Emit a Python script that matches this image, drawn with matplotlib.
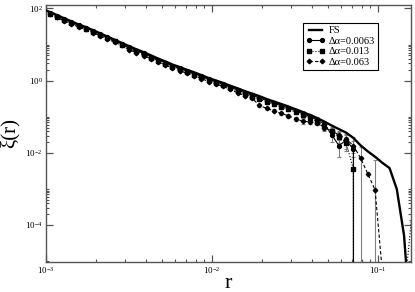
import matplotlib
matplotlib.use('Agg')
import matplotlib.pyplot as plt
from matplotlib.ticker import FixedLocator, LogFormatterSciNotation, NullFormatter

plt.rcParams['font.family'] = ['Liberation Serif', 'DejaVu Serif']
plt.rcParams['mathtext.fontset'] = 'stix'

# ---------------- data ----------------
r = [0.00105, 0.00116, 0.00128, 0.00142, 0.00157, 0.00173, 0.00192, 0.00212,
     0.00234, 0.00259, 0.00286, 0.00316, 0.00350, 0.00387, 0.00428, 0.00473,
     0.00523, 0.00578, 0.00639, 0.00707, 0.00781, 0.00864, 0.00955, 0.01056,
     0.01167, 0.0129, 0.01427, 0.01577, 0.01744, 0.01928, 0.02131, 0.02356,
     0.02605, 0.0288, 0.03184, 0.0352, 0.03892, 0.04303, 0.04757, 0.05259,
     0.05814, 0.06428, 0.07107, 0.07857, 0.08686, 0.09603, 0.10617, 0.11738,
     0.12977, 0.14347, 0.15862]

r_fs = [0.00100] + r
xi_fs = [88.0, 80.5, 66.4, 54.1, 44.1, 36.1, 30.8, 25.1, 20.5, 16.7, 13.6, 11.1,
         9.06, 7.40, 6.17, 5.02, 4.10, 3.42, 2.79, 2.38, 1.99, 1.70, 1.42, 1.18,
         1.01, 0.861, 0.718, 0.612, 0.512, 0.437, 0.372, 0.310, 0.265, 0.226,
         0.193, 0.161, 0.135, 0.112, 0.0916, 0.0729, 0.0569, 0.0454, 0.0361,
         0.0258, 0.0160, 0.0109, 0.00776, 0.00528, 0.00376, 9.8e-4, 5.1e-5, 1e-7]

xi_0063 = [76.5, 63.1, 51.4, 41.9, 34.3, 29.3, 23.8, 19.5, 15.9, 12.9, 10.5,
           8.34, 6.81, 5.68, 4.62, 3.77, 3.15, 2.57, 2.19, 1.83, 1.56, 1.31,
           1.09, 0.929, 0.792, 0.661, 0.551, 0.461, 0.393, 0.335, 0.279, 0.239,
           0.203, 0.174, 0.145, 0.122, 0.101, 0.0806, 0.063, 0.0316, 0.0158,
           0.0224, 0.0126, 0, 0, 0, 0, 0, 0, 0, 0]
err_0063 = [0] * 26 + [0.017, 0.014, 0.012, 0.010, 0.025, 0.022, 0.020, 0.018,
                       0.020, 0.020, 0.018, 0.015, 0.013, 0.012, 0.008, 0.010,
                       0.014, 0, 0, 0, 0, 0, 0, 0, 0]

xi_013 = [72.5, 59.8, 48.7, 39.7, 32.5, 27.7, 22.6, 18.5, 15.0, 12.2, 9.99,
          7.88, 6.44, 5.37, 4.37, 3.57, 2.98, 2.43, 2.07, 1.73, 1.48, 1.24,
          1.03, 0.879, 0.749, 0.625, 0.508, 0.425, 0.363, 0.309, 0.257, 0.220,
          0.188, 0.160, 0.134, 0.112, 0.093, 0.0733, 0.056, 0.040, 0.028,
          0.019, 0.0035, 0, 0, 0, 0, 0, 0, 1e-6, 1.4e-4]
err_013 = [0] * 26 + [0.015, 0.013, 0.011, 0.010, 0.022, 0.020, 0.018, 0.016,
                      0.018, 0.017, 0.016, 0.014, 0.012, 0.011, 0.009, 0.008,
                      0.004, 0, 0, 0, 0, 0, 0, 0, 0]

xi_063 = [68.4, 56.4, 46.0, 37.5, 30.7, 26.2, 21.3, 17.4, 14.2, 11.6, 9.44,
          7.25, 5.92, 4.94, 4.02, 3.28, 2.74, 2.23, 1.90, 1.59, 1.36, 1.14,
          0.944, 0.808, 0.689, 0.574, 0.459, 0.384, 0.328, 0.205, 0.171, 0.146,
          0.124, 0.106, 0.0886, 0.0743, 0.0728, 0.0687, 0.050, 0.040, 0.0316,
          0.024, 0.0158, 0.0071, 0.0026, 9.3e-4, 5e-6, 0, 0, 0, 0]
err_063 = [0] * 26 + [0.014, 0.012, 0.010, 0.015, 0.014, 0.013, 0.012, 0.011,
                      0.011, 0.010, 0.010, 0.010, 0.009, 0.010, 0.009, 0.008,
                      0.006, 0.0075, 0, 0.0055, 0, 0, 0, 0, 0]

labels = ['FS', '\u0394\u03b1=0.0063', '\u0394\u03b1=0.013', '\u0394\u03b1=0.063']

# ---------------- figure ----------------
fig = plt.figure(figsize=(4.15, 2.92), dpi=100)
ax = fig.add_axes([46 / 415, 1 - 262 / 292, 365 / 415, 257 / 292])
ax.set_xscale('log')
ax.set_yscale('log')

ecol = '#808080'
for yy, ee in ((xi_0063, err_0063), (xi_013, err_013), (xi_063, err_063)):
    ax.errorbar(r, yy, yerr=ee, fmt='none', ecolor=ecol, elinewidth=0.8,
                capsize=1.6, capthick=0.8, zorder=2)

ax.plot(r_fs, xi_fs, '-', color='black', lw=1.7, label=labels[0], zorder=5)
ax.plot(r, xi_0063, '-', color='black', lw=0.8, marker='o', ms=2.8,
        label=labels[1], zorder=4)
ax.plot(r, xi_013, ':', color='black', lw=0.8, marker='s', ms=2.6,
        markevery=slice(0, len(r) - 1), label=labels[2], zorder=4)
ax.plot(r, xi_063, '--', color='black', lw=0.8, marker='D', ms=2.3,
        dashes=(3, 2), label=labels[3], zorder=4)

ax.set_xlim(1e-3, 0.158)
ax.set_ylim(9.4e-6, 125)

# ticks
ax.yaxis.set_major_locator(FixedLocator([1e-4, 1e-2, 1e0, 1e2]))
ax.yaxis.set_major_formatter(LogFormatterSciNotation())
yminor = [k * 10.0 ** e for e in (-6, -4, -2, 0, 2) for k in range(2, 11)]
ax.yaxis.set_minor_locator(FixedLocator(yminor))
ax.yaxis.set_minor_formatter(NullFormatter())

spine_col = '#555555'
for s in ax.spines.values():
    s.set_color(spine_col)
    s.set_linewidth(1.0)
ax.tick_params(which='both', direction='in', top=True, right=True,
               color=spine_col, labelsize=6.5, pad=2.5)
ax.tick_params(which='major', length=5, width=0.9)
ax.tick_params(which='minor', length=2.5, width=0.8)

ax.set_xlabel('r', fontsize=16)
ax.set_ylabel('\u03be(r)', fontsize=15)
ax.xaxis.set_label_coords(0.5, -0.045)
ax.yaxis.set_label_coords(-0.072, 0.5)

leg = ax.legend(loc='upper left', bbox_to_anchor=(0.704, 0.93), fontsize=7.5,
                numpoints=2, handlelength=1.8, handletextpad=0.4,
                labelspacing=0.12, borderpad=0.3, borderaxespad=0.0,
                fancybox=False, framealpha=1, edgecolor='black')
leg.get_frame().set_linewidth(0.8)

fig.savefig('out.png', dpi=100)
